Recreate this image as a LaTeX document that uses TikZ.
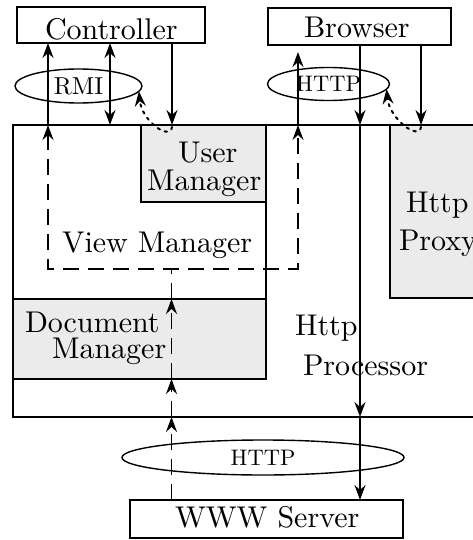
\documentclass[tikz,border=0pt]{standalone}
\usepackage{graphicx}
\usetikzlibrary{arrows.meta,shapes.geometric}
% text set at 10pt and enlarged, so the letters keep the 10pt design
\newcommand{\bigtxt}[1]{\scalebox{3}{\fontsize{10}{12}\selectfont #1}}
\newcommand{\prottxt}[2][2.25]{\scalebox{#1}{\fontsize{10}{12}\selectfont #2}}
\begin{document}
\begin{tikzpicture}[x=1pt,y=-1pt,
  every node/.style={inner sep=0pt, outer sep=0pt},
  box/.style={draw, line width=1.4pt},
  shaded/.style={box, fill=black!8},
  txt/.style={anchor=base west},
  proto/.style={draw, ellipse, line width=1.4pt},
  conn/.style={line width=1.6pt},
  dashline/.style={conn, dash pattern=on 16pt off 9pt},
  dotline/.style={line width=2pt, dash pattern=on 2.5pt off 5pt, line cap=round},
  >={Stealth[length=15pt,width=11pt,inset=5pt]}]
\clip (0,0) rectangle (473,540);

% column positions of the vertical connectors
\coordinate (xL) at (48,0);
\coordinate (xM) at (110,0);
\coordinate (xU) at (172,0);
\coordinate (xD) at (171.5,0);
\coordinate (xR) at (298,0);
\coordinate (xB) at (360,0);
\coordinate (xP) at (421,0);
\coordinate (vmB) at (0,269);

% processor and its components
\node[box, line width=2pt, minimum width=465pt, minimum height=292pt] (proc) at (245.5,271) {};
\node[shaded, minimum width=125pt, minimum height=77pt] (um) at (203.5,163.5) {};
\node[shaded, minimum width=253pt, minimum height=80pt] (doc) at (139.5,339) {};
\node[shaded, minimum width=90pt, minimum height=173pt] (prx) at (435,211.5) {};
\draw[line width=1.4pt] (um.north east) -- (doc.south east);

% outside parties
\node[box, minimum width=188pt, minimum height=36pt] (ctl) at (111,25) {};
\node[box, minimum width=183pt, minimum height=37pt] (brw) at (359.5,26.5) {};
\node[box, minimum width=273pt, minimum height=38pt] (www) at (266.5,519) {};

% protocols
\node[proto, minimum width=127pt, minimum height=34pt] (rmi) at (78.5,86) {\prottxt[2.45]{RMI}};
\node[proto, minimum width=122pt, minimum height=33pt] (http1) at (328.5,84) {\prottxt{HTTP}};
\node[proto, minimum width=282pt, minimum height=35pt] (http2) at (263,457.5) {\prottxt{HTTP}};

% labels
\node[txt] (tCtl) at (45,40) {\bigtxt{Controller}};
\node[txt] (tBrw) at (304,38) {\bigtxt{Browser}};
\node[txt] (tUm1) at (178,162) {\bigtxt{User}};
\node[txt] (tUm2) at (147,190) {\bigtxt{Manager}};
\node[txt] (tVm) at (62,252) {\bigtxt{View Manager}};
\node[txt] (tPx1) at (406,212) {\bigtxt{Http}};
\node[txt] (tPx2) at (399,250) {\bigtxt{Proxy}};
\node[txt] (tDoc1) at (25,332) {\bigtxt{Document}};
\node[txt] (tDoc2) at (52,358) {\bigtxt{Manager}};
\node[txt] (tPr1) at (295,335) {\bigtxt{Http}};
\node[txt] (tPr2) at (303,375) {\bigtxt{Processor}};
\node[txt] (tWww) at (175,527) {\bigtxt{WWW Server}};

% view manager outline, opening to the top
\draw[dashline,<->] (proc.north -| xL) -- (vmB -| xL) -- (vmB -| xR) -- (proc.north -| xR);

% controller links
\draw[conn,->] (proc.north -| xL) -- (ctl.south -| xL);
\draw[conn,<->] (ctl.south -| xM) -- (proc.north -| xM);
\draw[conn,->] (ctl.south -| xU) -- (proc.north -| xU);
\draw[dotline,->] ([yshift=-2pt]proc.north -| xU) .. controls +(-2,14) and +(3,30) .. (rmi.-5);

% browser links
\draw[conn,->,shorten >=7pt] (proc.north -| xR) -- (brw.south -| xR);
\draw[conn,->] (brw.south -| xB) -- (proc.north -| xB);
\draw[conn,->] (proc.north -| xB) -- (proc.south -| xB);
\draw[conn,->] (proc.south -| xB) -- (www.north -| xB);
\draw[conn,->] (brw.south -| xP) -- (proc.north -| xP);
\draw[dotline,->] ([yshift=-2pt]proc.north -| xP) .. controls +(-2,14) and +(3,30) .. (http1.-5);

% server replies travelling up to the view manager
\draw[dashline,->] (www.north -| xD) -- (proc.south -| xD);
\draw[dashline,->] (proc.south -| xD) -- (doc.south -| xD);
\draw[dashline,->] (doc.south -| xD) -- (doc.north -| xD);
\draw[dashline] (doc.north -| xD) -- (vmB -| xD);
\end{tikzpicture}
\end{document}
